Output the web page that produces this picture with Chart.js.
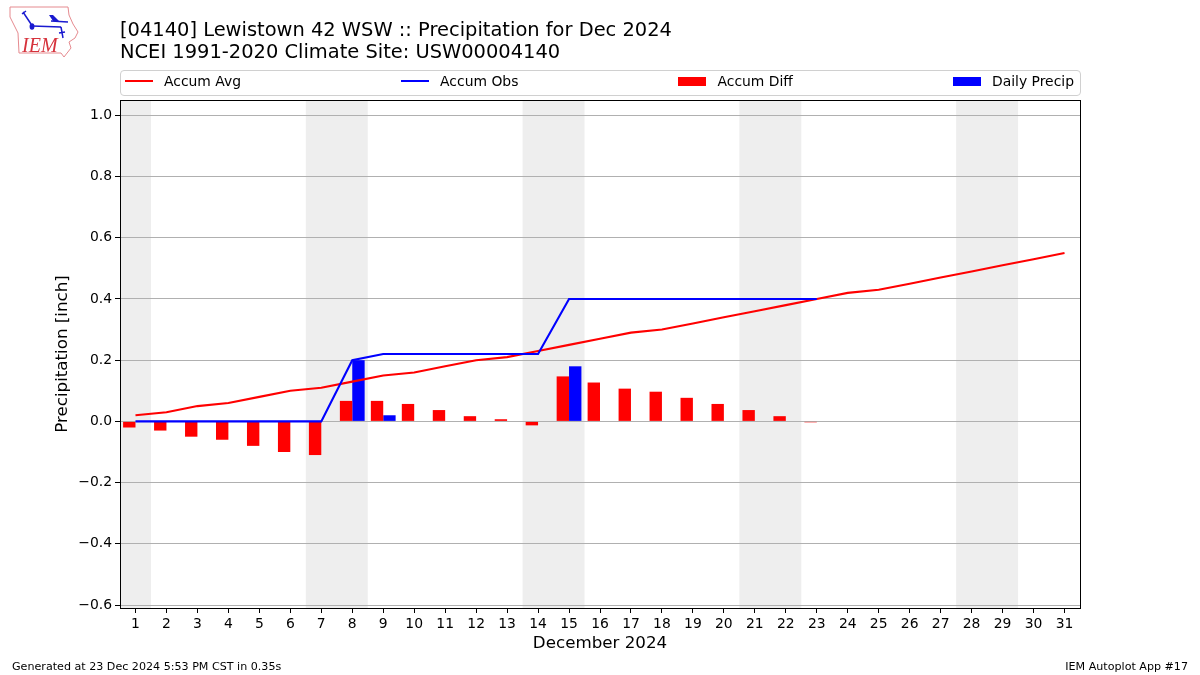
<!DOCTYPE html>
<html>
<head>
<meta charset="utf-8">
<title>Lewistown 42 WSW Precipitation</title>
<script src="https://cdn.jsdelivr.net/npm/chart.js@4"></script>
<style>
    html, body { margin: 0; padding: 0; background: #fff; }
    body { width: 1200px; height: 675px; position: relative; overflow: hidden; font-family: "DejaVu Sans", sans-serif; color: #000; }
    canvas { position: absolute; left: 0; top: 0; }
    #logo { position: absolute; left: 9px; top: 5px; }
    #legend {
        position: absolute; left: 120px; top: 70px; width: 961px; height: 26px; box-sizing: border-box;
        border: 1px solid #d0d0d0; border-radius: 4px; padding: 0 6px 4px 4px;
        display: flex; justify-content: space-between; align-items: center; font-size: 13.9px;
    }
    .item { display: flex; align-items: center; }
    .swatch { width: 28px; margin-right: 11px; }
    .foot { position: absolute; top: 660px; font-size: 11.12px; line-height: 13px; }
</style>
</head>
<body>
<canvas id="chart" width="1200" height="675"></canvas>

<svg id="logo" width="72" height="54" viewBox="8 5 72 54">
    <path d="M9 7 L67 7 L68 15 L72 24 L77 32 L74 38 L68 42 L70 48 L63 57 L60 53 L18 53 L17 33 L9 17 Z" fill="#fff" stroke="#e58a8f" stroke-width="1"/>
    <path d="M31 26 L60 27 M50 21 L67 22 M60 27 L62 38 M58 33 L64 32 M22 12 L30 24 M21 14 L25 11" fill="none" stroke="#1a1ad0" stroke-width="1.5"/>
    <path d="M48 15 L52 15 L58 21 L52 21 Z" fill="#1a1ad0"/>
    <ellipse cx="31" cy="26.5" rx="2.4" ry="3.2" fill="#1a1ad0"/>
    <text x="21" y="52" font-family="Liberation Serif" font-style="italic" font-size="20" fill="#d6323c">IEM</text>
</svg>

<div id="legend"></div>
<div class="foot" style="left:12px;">Generated at 23 Dec 2024 5:53 PM CST in 0.35s</div>
<div class="foot" style="right:12px;">IEM Autoplot App #17</div>

<script>
// Values
const days = ['1', '2', '3', '4', '5', '6', '7', '8', '9', '10', '11', '12', '13', '14', '15', '16',
    '17', '18', '19', '20', '21', '22', '23', '24', '25', '26', '27', '28', '29', '30', '31'];
const accumAvg = [0.02, 0.03, 0.05, 0.06, 0.08, 0.10, 0.11, 0.13, 0.15, 0.16, 0.18, 0.20, 0.21, 0.23, 0.25, 0.27,
    0.29, 0.30, 0.32, 0.34, 0.36, 0.38, 0.40, 0.42, 0.43, 0.45, 0.47, 0.49, 0.51, 0.53, 0.55];
const accumObs = [0, 0, 0, 0, 0, 0, 0, 0.20, 0.22, 0.22, 0.22, 0.22, 0.22, 0.22, 0.40, 0.40,
    0.40, 0.40, 0.40, 0.40, 0.40, 0.40, 0.40, null, null, null, null, null, null, null, null];
const accumDiff = [-0.02, -0.03, -0.05, -0.06, -0.08, -0.10, -0.11, 0.067, 0.067, 0.057, 0.037, 0.017, 0.007, -0.013, 0.147, 0.127,
    0.107, 0.097, 0.077, 0.057, 0.037, 0.017, -0.003, null, null, null, null, null, null, null, null];
const dailyPrecip = [0, 0, 0, 0, 0, 0, 0, 0.20, 0.02, 0, 0, 0, 0, 0, 0.18, 0,
    0, 0, 0, 0, 0, 0, 0, null, null, null, null, null, null, null, null];
const yTicks = [-0.6, -0.4, -0.2, 0, 0.2, 0.4, 0.6, 0.8, 1.0];
// weekend spans as [first day, last day]
const weekends = [['1', '1'], ['7', '8'], ['14', '15'], ['21', '22'], ['28', '29']];

// Weekend shading goes behind the grid, the black frame on top of everything
const framePlugin = {
    id: 'frame',
    beforeDraw(chart) {
        const { ctx, chartArea, scales } = chart;
        const halfDay = (scales.x.getPixelForValue(1) - scales.x.getPixelForValue(0)) / 2;
        ctx.save();
        ctx.fillStyle = '#eeeeee';
        weekends.forEach(w => {
            const x0 = scales.x.getPixelForValue(days.indexOf(w[0])) - halfDay;
            const x1 = scales.x.getPixelForValue(days.indexOf(w[1])) + halfDay;
            ctx.fillRect(x0, chartArea.top, x1 - x0, chartArea.bottom - chartArea.top);
        });
        ctx.restore();
    },
    afterDraw(chart) {
        const { ctx, chartArea } = chart;
        ctx.save();
        ctx.strokeStyle = '#000';
        ctx.lineWidth = 1;
        ctx.strokeRect(chartArea.left + 0.5, chartArea.top + 0.5, chartArea.right - chartArea.left, chartArea.bottom - chartArea.top);
        ctx.restore();
    }
};

const font = 'DejaVu Sans';

const chart = new Chart(document.getElementById('chart'), {
    type: 'bar',
    data: {
        labels: days,
        datasets: [
            { type: 'line', label: 'Accum Avg', data: accumAvg, borderColor: '#ff0000', backgroundColor: '#ff0000', borderWidth: 2.1, pointRadius: 0, tension: 0, order: 2 },
            { type: 'line', label: 'Accum Obs', data: accumObs, borderColor: '#0000ff', backgroundColor: '#0000ff', borderWidth: 2.1, pointRadius: 0, tension: 0, order: 1 },
            { label: 'Accum Diff', data: accumDiff, backgroundColor: '#ff0000', categoryPercentage: 0.8, barPercentage: 1, order: 3 },
            { label: 'Daily Precip', data: dailyPrecip, backgroundColor: '#0000ff', categoryPercentage: 0.8, barPercentage: 1, order: 3 }
        ]
    },
    options: {
        responsive: false,
        animation: false,
        layout: { padding: { left: 0, right: 120, top: 0, bottom: 0 } },
        plugins: {
            legend: { display: false },
            tooltip: { enabled: false },
            title: {
                display: true,
                fullSize: false,
                align: 'start',
                text: ['[04140] Lewistown 42 WSW :: Precipitation for Dec 2024', 'NCEI 1991-2020 Climate Site: USW00004140'],
                color: '#000',
                font: { family: font, size: 19.45, weight: 'normal', lineHeight: '22px' },
                padding: { top: 20, bottom: 36 }
            }
        },
        scales: {
            x: {
                offset: true,
                grid: { display: true, offset: false, drawOnChartArea: false, color: '#000', tickColor: '#000', tickLength: 5 },
                border: { display: false },
                ticks: { color: '#000', font: { family: font, size: 13.9 }, maxRotation: 0, autoSkip: false, padding: 3 },
                title: { display: true, text: 'December 2024', color: '#000', font: { family: font, size: 16.7 }, padding: { top: 0, bottom: 21 } },
                afterFit(axis) { axis.height = 67; }
            },
            y: {
                min: -0.6098,
                max: 1.0502,
                afterBuildTicks(axis) { axis.ticks = yTicks.map(v => ({ value: v })); },
                grid: { color: '#b0b0b0', lineWidth: 1, tickColor: '#000', tickLength: 5 },
                border: { display: false },
                ticks: {
                    color: '#000',
                    font: { family: font, size: 13.9 },
                    padding: 3,
                    callback: v => (v < 0 ? '\u2212' : '') + Math.abs(v).toFixed(1)
                },
                title: { display: true, text: 'Precipitation [inch]', color: '#000', font: { family: font, size: 16.7 }, padding: { top: 53, bottom: 0 } },
                afterFit(axis) { axis.width = 120; }
            }
        }
    },
    plugins: [framePlugin]
});

// Legend row, in the reference's order
const legend = document.getElementById('legend');
chart.data.datasets.forEach(ds => {
    const item = document.createElement('div');
    item.className = 'item';
    const swatch = document.createElement('div');
    swatch.className = 'swatch';
    swatch.style.height = ds.type === 'line' ? '2px' : '9px';
    swatch.style.background = ds.backgroundColor;
    const label = document.createElement('span');
    label.textContent = ds.label;
    item.appendChild(swatch);
    item.appendChild(label);
    legend.appendChild(item);
});
</script>
</body>
</html>
